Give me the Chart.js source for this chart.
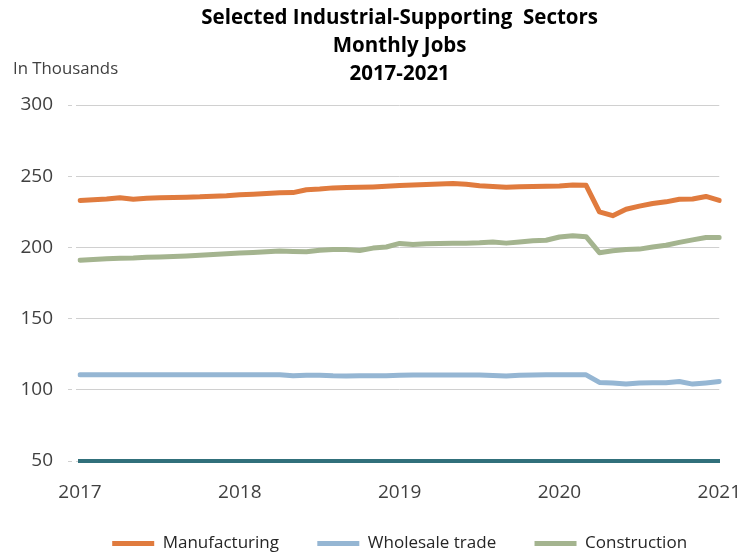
<!DOCTYPE html>
<html>
<head>
<meta charset="utf-8">
<script src="https://cdn.jsdelivr.net/npm/chart.js@4/dist/chart.umd.min.js"></script>
<style>
  html, body { margin: 0; padding: 0; background: #fff; }
  #wrap { width: 753px; height: 555px; }
</style>
</head>
<body>
<div id="wrap"><canvas id="lineChart"></canvas></div>
<script>
const years = ['2017', '2018', '2019', '2020', '2021'];

// monthly categories, Jan 2017 .. Jan 2021
const months = [];
years.forEach((y, i) => {
    const n = i < years.length - 1 ? 12 : 1;
    for (let m = 1; m <= n; m++) months.push(y + '-' + String(m).padStart(2, '0'));
});

const manufacturing = [
    233, 233.5, 234, 234.8, 233.8, 234.5, 234.8, 235, 235.3, 235.5, 236, 236.3,
    237, 237.3, 237.8, 238.3, 238.5, 240.5, 241, 241.8, 242, 242.2, 242.5, 243,
    243.5, 243.8, 244.2, 244.6, 244.8, 244.3, 243.3, 242.8, 242.2, 242.6, 242.8, 243,
    243.2, 243.8, 243.6, 225, 222.3, 226.8, 229, 230.8, 232, 233.8, 234, 235.8,
    233
];
const wholesale = [
    110.5, 110.5, 110.5, 110.5, 110.5, 110.5, 110.5, 110.5, 110.5, 110.5, 110.5, 110.5,
    110.5, 110.5, 110.5, 110.5, 109.8, 110.3, 110.2, 109.8, 109.7, 109.8, 109.8, 109.8,
    110.2, 110.4, 110.4, 110.4, 110.4, 110.4, 110.4, 110, 109.7, 110.2, 110.4, 110.5,
    110.5, 110.5, 110.5, 105.2, 104.8, 104.1, 104.8, 105, 105, 105.8, 104, 104.8,
    105.8
];
const construction = [
    191, 191.5, 192, 192.3, 192.5, 193, 193.3, 193.6, 194, 194.5, 195, 195.5,
    196, 196.5, 197, 197.5, 197.2, 197, 198, 198.6, 198.5, 197.8, 199.5, 200.3,
    202.8, 202, 202.6, 202.8, 203, 203, 203.2, 203.8, 203, 203.8, 204.6, 205,
    207.3, 208.2, 207.5, 196.3, 197.6, 198.5, 198.8, 200.3, 201.5, 203.5, 205.3, 207,
    207
];

const yTicks = [50, 100, 150, 200, 250, 300];

const fontFam = "'Open Sans', 'Noto Sans', sans-serif";

// "In Thousands" note above the value axis
const unitLabel = {
    id: 'unitLabel',
    afterDraw(chart) {
        const ctx = chart.ctx;
        ctx.save();
        ctx.font = '16.8px ' + fontFam;
        ctx.fillStyle = '#404040';
        ctx.textBaseline = 'middle';
        ctx.fillText('In Thousands', 13, 69);
        ctx.restore();
    }
};

const mkSet = (label, data, color) => ({
    label: label,
    data: data,
    borderColor: color,
    backgroundColor: color,
    borderWidth: 5,
    borderCapStyle: 'round',
    borderJoinStyle: 'round',
    pointRadius: 0,
    tension: 0,
    fill: false
});

new Chart(document.getElementById('lineChart'), {
    type: 'line',
    data: {
        labels: months,
        datasets: [
            mkSet('Manufacturing', manufacturing, '#E07B3E'),
            mkSet('Wholesale trade', wholesale, '#95B6D3'),
            mkSet('Construction', construction, '#A4B48F')
        ]
    },
    options: {
        responsive: true,
        maintainAspectRatio: false,
        animation: false,
        layout: { padding: { left: 0, right: 25, top: 0, bottom: -7 } },
        plugins: {
            title: {
                display: true,
                fullSize: false,
                text: ['Selected Industrial-Supporting  Sectors', 'Monthly Jobs', '2017-2021'],
                color: '#000',
                font: { family: fontFam, size: 20.5, weight: 'bold', lineHeight: '28px' },
                padding: { top: 4, bottom: 17 }
            },
            legend: {
                position: 'bottom',
                fullSize: false,
                labels: {
                    usePointStyle: true,
                    pointStyle: 'line',
                    pointStyleWidth: 42,
                    color: '#262626',
                    padding: 10,
                    font: { family: fontFam, size: 17 },
                    generateLabels: chart => {
                        const items = Chart.defaults.plugins.legend.labels.generateLabels(chart);
                        items.forEach((it, i) => {
                            if (i < items.length - 1) it.text += '\u2003\u2002\u2009';
                        });
                        return items;
                    }
                }
            },
            tooltip: { enabled: false }
        },
        scales: {
            x: {
                afterFit: s => { s.height = 64; },
                grid: { display: false },
                border: { display: true, color: '#31707B', width: 4 },
                ticks: {
                    autoSkip: false,
                    maxRotation: 0,
                    padding: 12,
                    color: '#404040',
                    font: { family: fontFam, size: 19 },
                    callback: function (v, i) {
                        const lab = months[i];
                        return lab.endsWith('-01') ? years[years.indexOf(lab.slice(0, 4))] : '';
                    }
                }
            },
            y: {
                min: yTicks[0],
                max: yTicks[yTicks.length - 1],
                afterFit: s => { s.width = 80; },
                afterBuildTicks: s => { s.ticks = yTicks.map(v => ({ value: v })); },
                border: { display: false },
                grid: {
                    color: '#D0D0D0',
                    lineWidth: 1,
                    borderDash: [4, 4],
                    tickBorderDash: [4, 4],
                    tickLength: 12,
                    drawTicks: true
                },
                ticks: {
                    padding: 15,
                    color: '#404040',
                    font: { family: fontFam, size: 19 }
                }
            }
        }
    },
    plugins: [unitLabel]
});
</script>
</body>
</html>
